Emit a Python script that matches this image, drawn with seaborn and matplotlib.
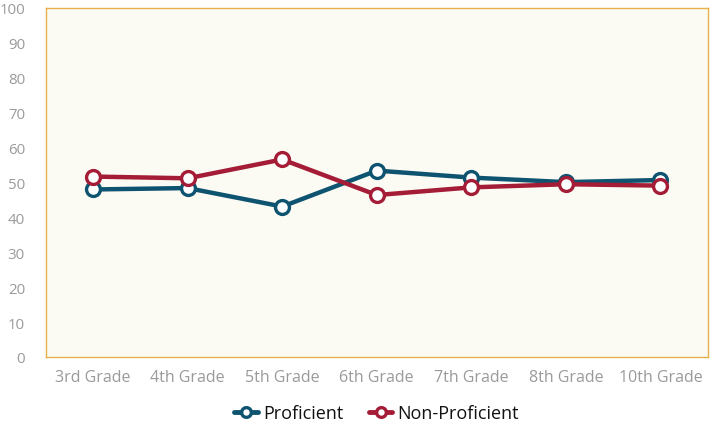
import matplotlib
matplotlib.use("Agg")
import matplotlib.pyplot as plt
import seaborn as sns
import pandas as pd

grades = ["3rd Grade", "4th Grade", "5th Grade", "6th Grade", "7th Grade", "8th Grade", "10th Grade"]
proficient = [48.0, 48.4, 43.1, 53.4, 51.4, 50.1, 50.7]
non_proficient = [51.7, 51.2, 56.6, 46.4, 48.6, 49.5, 49.1]
series_names = ["Proficient", "Non-Proficient"]
colors = ["#0E5470", "#A51C36"]

df = pd.DataFrame({
    "grade": grades * 2,
    "value": proficient + non_proficient,
    "series": [series_names[0]] * len(grades) + [series_names[1]] * len(grades),
})

sns.set_theme(style="white")
plt.rcParams["font.family"] = ["Open Sans", "DejaVu Sans"]

fig = plt.figure(figsize=(7.17, 4.27), dpi=100)
ax = fig.add_axes([0.064, 0.1616, 0.923, 0.8174])
ax.set_facecolor("#FBFBF3")

sns.lineplot(data=df, x="grade", y="value", hue="series", palette=colors,
             marker="o", markersize=10, markerfacecolor="white", markeredgewidth=2.4,
             linewidth=3.2, sort=False, ax=ax, legend=True)
for i, line in enumerate(ax.lines[:2]):
    line.set_markeredgecolor(colors[i])

ax.set_xlim(-0.5, len(grades) - 0.5)
ax.set_ylim(0, 100)
ax.set_yticks(range(0, 101, 10))
ax.set_xlabel("")
ax.set_ylabel("")
for s in ax.spines.values():
    s.set_color("#E8B04A")
    s.set_linewidth(1.0)
ax.tick_params(axis="both", colors="#9A9A9A", length=0)
ax.tick_params(axis="x", pad=9, labelsize=11.5)
ax.tick_params(axis="y", pad=15, labelsize=10.8)

handles, labels = ax.get_legend_handles_labels()
for h, c in zip(handles, colors):
    h.set_markerfacecolor("white")
    h.set_markeredgecolor(c)
    h.set_markersize(7)
    h.set_markeredgewidth(2.4)
    h.set_linewidth(3.5)
ax.legend(handles, labels, loc="center", bbox_to_anchor=(0.5, -0.16),
          ncol=2, frameon=False, fontsize=13, handlelength=1.3,
          handletextpad=0.3, columnspacing=1.4, labelcolor="#111111")

fig.savefig("out.png", dpi=100)
